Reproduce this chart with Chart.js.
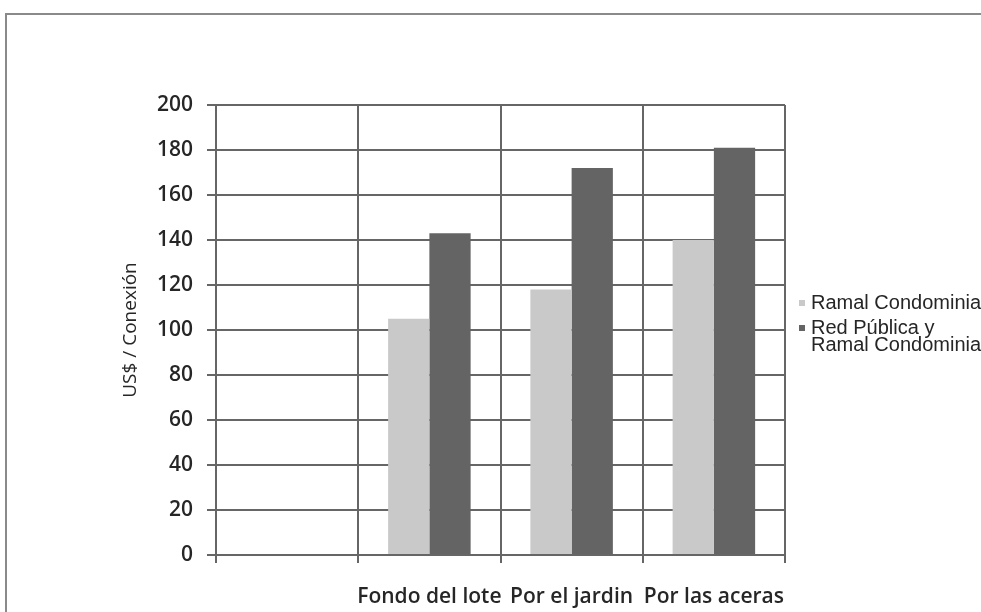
<!DOCTYPE html>
<html>
<head>
<meta charset="utf-8">
<script src="https://cdn.jsdelivr.net/npm/chart.js@4"></script>
<style>
html,body{margin:0;padding:0;background:#fff;overflow:hidden;}
#wrap{position:relative;width:981px;height:612px;overflow:hidden;}
#frame{position:absolute;left:5px;top:13px;width:1100px;height:800px;border:2px solid #8a8a8a;box-sizing:border-box;}
canvas{position:absolute;left:0;top:0;}
</style>
</head>
<body>
<div id="wrap">
<div id="frame"></div>
<canvas id="c" width="981" height="612"></canvas>
</div>
<script>
const categories = ["", "Fondo del lote", "Por el jardin", "Por las aceras"];
const seriesNames = ["Ramal Condominial", "Red Pública y Ramal Condominial"];
const legendLines = [["Ramal Condominial"], ["Red Pública y", "Ramal Condominial"]];
const ramalCondominial = [null, 105, 118, 140];
const redPublicaRamal = [null, 143, 172, 181];
const yTicks = [0, 20, 40, 60, 80, 100, 120, 140, 160, 180, 200];
const yTitle = "US$ / Conexión";

const gridColor = "#666666";
const colors = ["#c9c9c9", "#646464"];
const textColor = "#262626";

const legendPlugin = {
  id: "sideLegend",
  afterDraw(chart) {
    const ctx = chart.ctx;
    ctx.save();
    ctx.font = "20px 'Liberation Sans', Arial, sans-serif";
    ctx.textBaseline = "middle";
    ctx.textAlign = "left";
    const x = 799;
    const ys = [303, 328];
    chart.data.datasets.forEach((ds, i) => {
      ctx.fillStyle = ds.backgroundColor;
      ctx.fillRect(x, ys[i] - 3, 6, 6);
      ctx.fillStyle = textColor;
      legendLines[i].forEach((l, k) => ctx.fillText(l, x + 12, ys[i] + k * 17));
    });
    ctx.restore();
  }
};

new Chart(document.getElementById("c"), {
  type: "bar",
  data: {
    labels: categories,
    datasets: [
      {label: seriesNames[0], data: ramalCondominial, backgroundColor: colors[0], categoryPercentage: 0.58, barPercentage: 1},
      {label: seriesNames[1], data: redPublicaRamal, backgroundColor: colors[1], categoryPercentage: 0.58, barPercentage: 1}
    ]
  },
  options: {
    responsive: false,
    animation: false,
    layout: {padding: {top: 105, right: 196, left: 0, bottom: 0}},
    plugins: {legend: {display: false}, tooltip: {enabled: false}},
    scales: {
      x: {
        afterFit(s) { s.height = 57; },
        grid: {color: gridColor, lineWidth: 2, tickLength: 8, offset: true, drawOnChartArea: true},
        border: {color: gridColor, width: 2},
        ticks: {color: textColor, font: {family: "'Open Sans', sans-serif", size: 21, weight: 600}, padding: 21, maxRotation: 0, autoSkip: false}
      },
      y: {
        min: 0, max: 200,
        afterFit(s) { s.width = 216; },
        afterBuildTicks(s) { s.ticks = yTicks.map(v => ({value: v})); },
        grid: {color: gridColor, lineWidth: 2, tickLength: 9},
        border: {color: gridColor, width: 2},
        ticks: {color: textColor, font: {family: "'Open Sans', sans-serif", size: 21, weight: 600}, padding: 14},
        title: {display: true, text: yTitle, color: textColor, font: {family: "'Open Sans', sans-serif", size: 19}, padding: {top: 119, bottom: 0}}
      }
    }
  },
  plugins: [legendPlugin]
});
</script>
</body>
</html>
